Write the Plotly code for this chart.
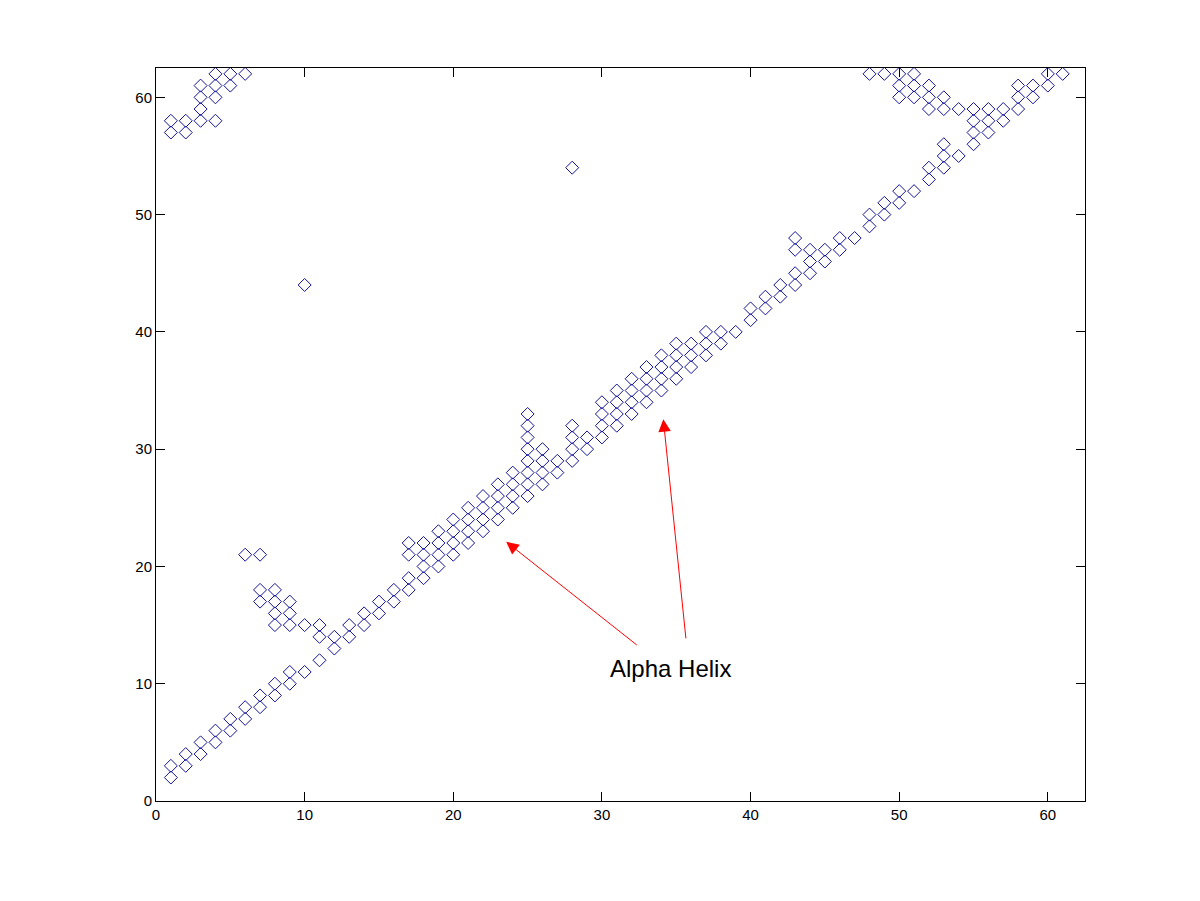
import plotly.graph_objects as go

# Contact map: residue i (x) vs residue j (y)
contacts = {
    1: [2, 3, 57, 58],
    2: [3, 4, 57, 58],
    3: [4, 5, 58, 59, 60, 61],
    4: [5, 6, 58, 60, 61, 62],
    5: [6, 7, 61, 62],
    6: [7, 8, 21, 62],
    7: [8, 9, 17, 18, 21],
    8: [9, 10, 15, 16, 17, 18],
    9: [10, 11, 15, 16, 17],
    10: [11, 15, 44],
    11: [12, 14, 15],
    12: [13, 14],
    13: [14, 15],
    14: [15, 16],
    15: [16, 17],
    16: [17, 18],
    17: [18, 19, 21, 22],
    18: [19, 20, 21, 22],
    19: [20, 21, 22, 23],
    20: [21, 22, 23, 24],
    21: [22, 23, 24, 25],
    22: [23, 24, 25, 26],
    23: [24, 25, 26, 27],
    24: [25, 26, 27, 28],
    25: [26, 27, 28, 29, 30, 31, 32, 33],
    26: [27, 28, 29, 30],
    27: [28, 29],
    28: [29, 30, 31, 32, 54],
    29: [30, 31],
    30: [31, 32, 33, 34],
    31: [32, 33, 34, 35],
    32: [33, 34, 35, 36],
    33: [34, 35, 36, 37],
    34: [35, 36, 37, 38],
    35: [36, 37, 38, 39],
    36: [37, 38, 39],
    37: [38, 39, 40],
    38: [39, 40],
    39: [40],
    40: [41, 42],
    41: [42, 43],
    42: [43, 44],
    43: [44, 45, 47, 48],
    44: [45, 46, 47],
    45: [46, 47],
    46: [47, 48],
    47: [48],
    48: [49, 50, 62],
    49: [50, 51, 62],
    50: [51, 52, 60, 61, 62],
    51: [52, 60, 61, 62],
    52: [53, 54, 59, 60, 61],
    53: [54, 55, 56, 59, 60],
    54: [55, 59],
    55: [56, 57, 58, 59],
    56: [57, 58, 59],
    57: [58, 59],
    58: [59, 60, 61],
    59: [60, 61],
    60: [61, 62],
    61: [62],
}

res_i = [i for i, js in contacts.items() for _ in js]
res_j = [j for js in contacts.values() for j in js]

x_ticks = [0, 10, 20, 30, 40, 50, 60]
y_ticks = [0, 10, 20, 30, 40, 50, 60]
label = "Alpha Helix"

fig = go.Figure()
fig.add_trace(go.Scatter(
    x=res_i, y=res_j, mode="markers",
    marker=dict(symbol="diamond-open", size=10, color="#12129a",
                line=dict(width=1, color="#12129a")),
    showlegend=False, hoverinfo="x+y",
))

axis_common = dict(
    showgrid=False, zeroline=False, showline=True, linecolor="black",
    linewidth=1, mirror="ticks", ticks="inside", ticklen=9,
    tickcolor="black", tickfont=dict(family="Liberation Sans, Arial", size=15, color="black"),
    range=[0, 62.5],
)
fig.update_xaxes(tickvals=x_ticks, **axis_common)
fig.update_yaxes(tickvals=y_ticks, **axis_common)

arrow_common = dict(
    xref="x", yref="y", axref="x", ayref="y", text="",
    showarrow=True, arrowhead=2, arrowsize=2.5, arrowwidth=1,
    arrowcolor="red", standoff=0, startstandoff=0,
)
fig.add_annotation(x=23.56, y=22.1, ax=32.45, ay=13.2, **arrow_common)
fig.add_annotation(x=34.13, y=32.55, ax=35.66, ay=13.74, **arrow_common)
fig.add_annotation(x=34.6, y=11.3, xref="x", yref="y", text=label,
                   showarrow=False,
                   font=dict(family="Liberation Sans, Arial", size=24, color="black"))

fig.update_layout(
    width=1200, height=901,
    margin=dict(l=156, r=115, t=68, b=100),
    paper_bgcolor="white", plot_bgcolor="white",
)

fig.write_html("out.html", config={"displayModeBar": False},
               post_script="document.body.style.margin='0';")
